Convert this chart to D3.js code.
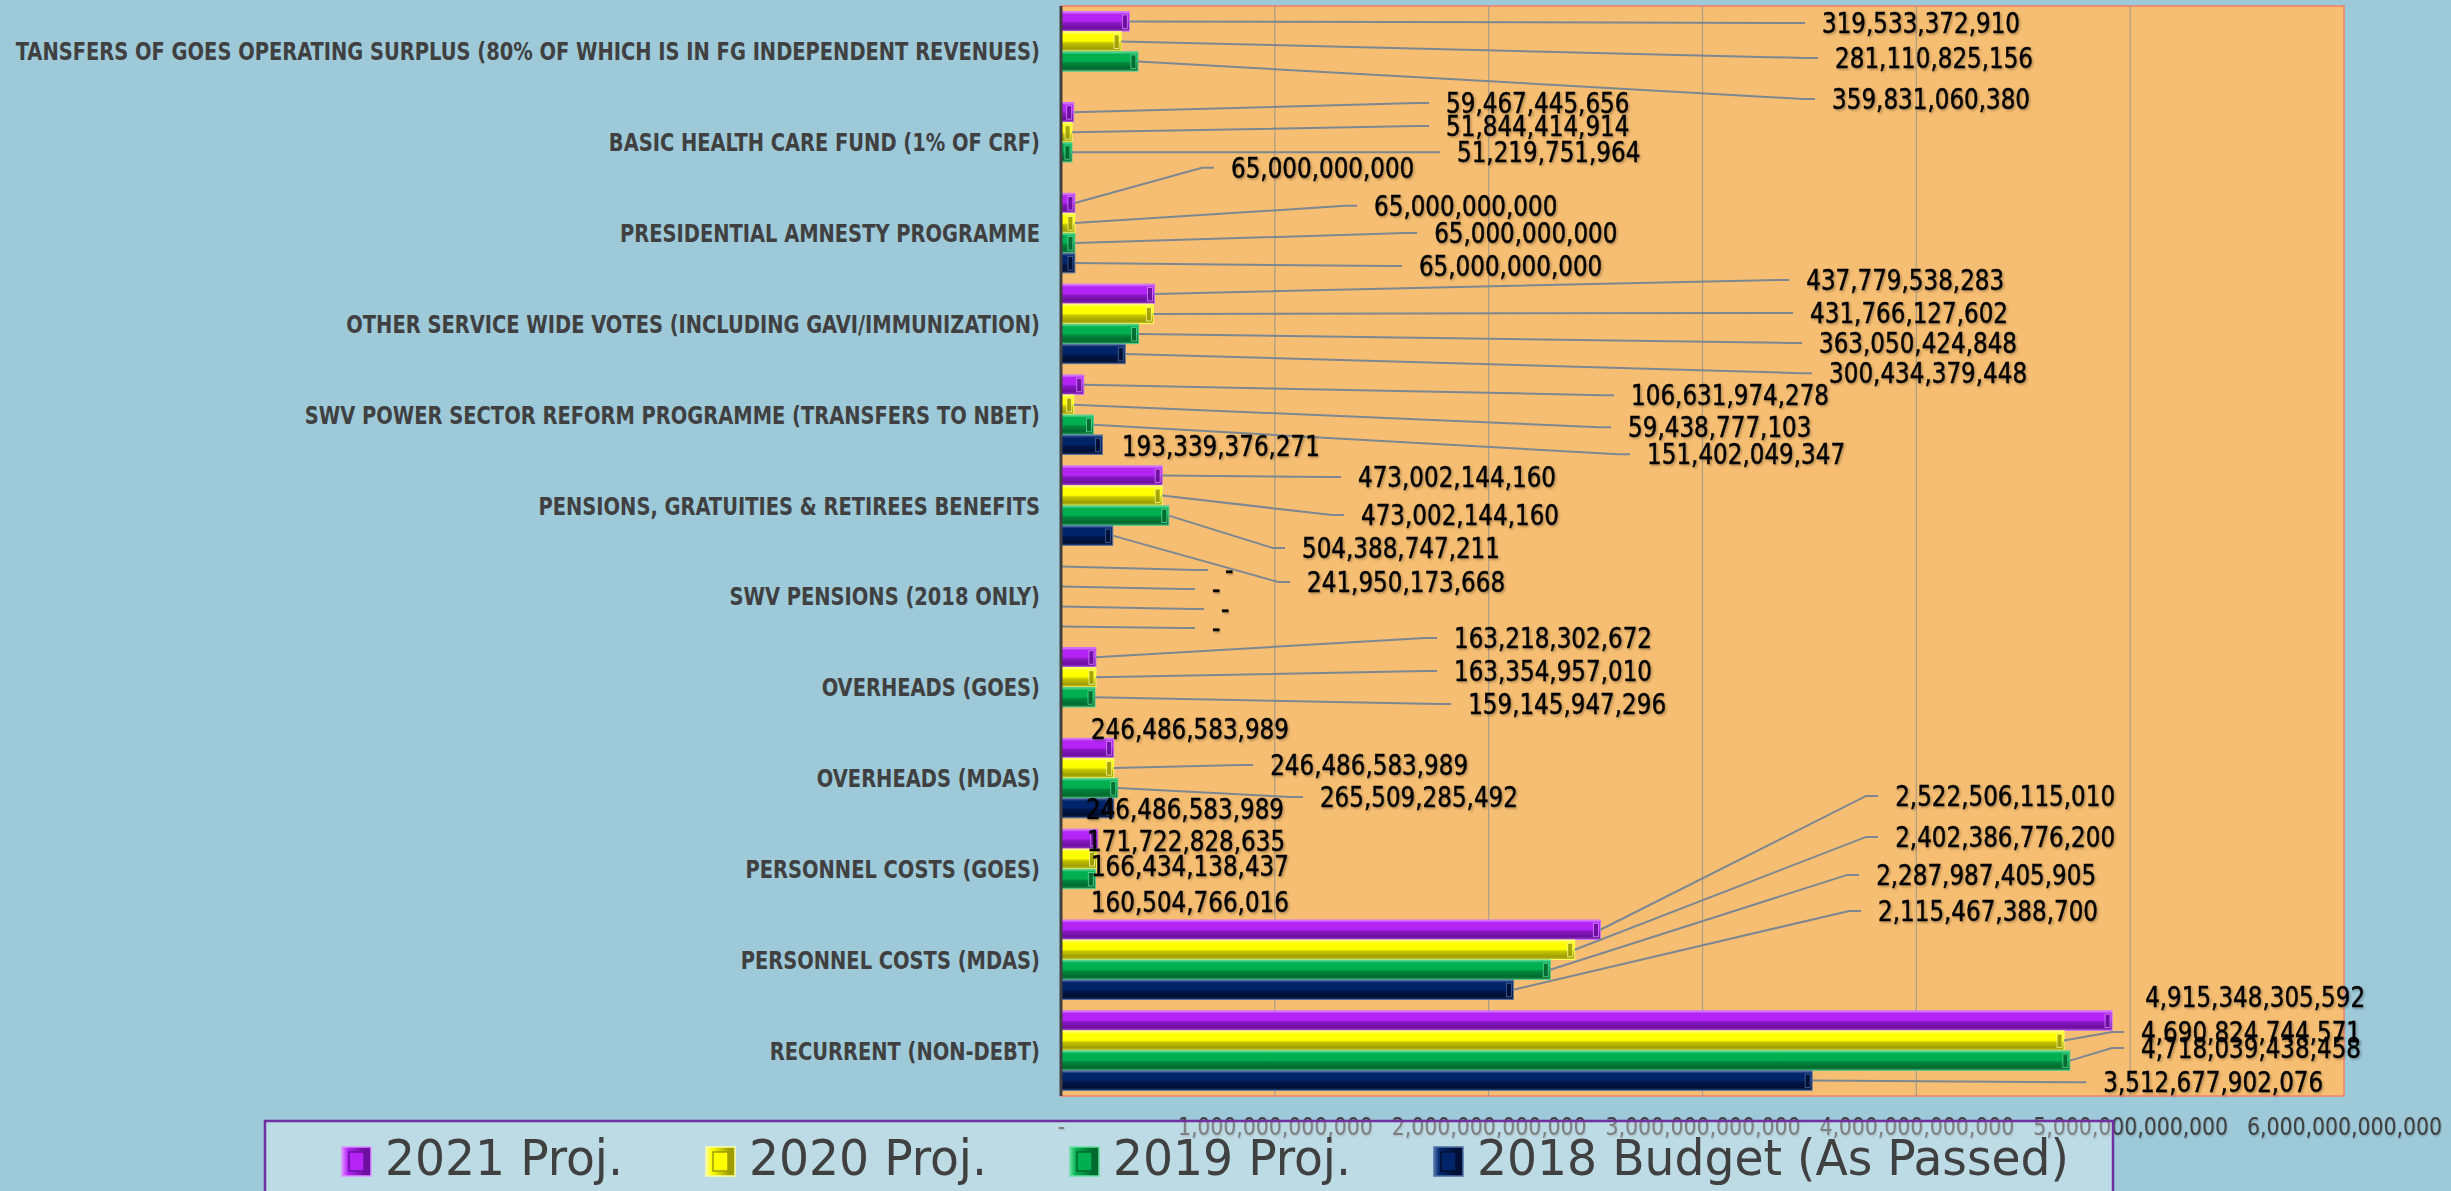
<!DOCTYPE html>
<html><head><meta charset="utf-8">
<script src="https://cdn.jsdelivr.net/npm/d3@7/dist/d3.min.js"></script>
<style>
html,body{margin:0;padding:0;background:#9DC9D9;}
svg{display:block}
.cf{font-family:"DejaVu Sans Condensed","DejaVu Sans",sans-serif;font-stretch:condensed;}
</style>
</head><body>
<svg id="c" width="2451" height="1191"></svg>
<script>
// ---------- DATA ----------
const categories = [
  "TANSFERS OF GOES OPERATING SURPLUS (80% OF WHICH IS IN FG INDEPENDENT REVENUES)",
  "BASIC HEALTH CARE FUND (1% OF CRF)",
  "PRESIDENTIAL AMNESTY PROGRAMME",
  "OTHER SERVICE WIDE VOTES (INCLUDING GAVI/IMMUNIZATION)",
  "SWV POWER SECTOR REFORM PROGRAMME (TRANSFERS TO NBET)",
  "PENSIONS, GRATUITIES & RETIREES BENEFITS",
  "SWV PENSIONS (2018 ONLY)",
  "OVERHEADS (GOES)",
  "OVERHEADS (MDAS)",
  "PERSONNEL COSTS (GOES)",
  "PERSONNEL COSTS (MDAS)",
  "RECURRENT (NON-DEBT)"
];
const seriesNames = ["2021 Proj.", "2020 Proj.", "2019 Proj.", "2018 Budget (As Passed)"];
const proj2021 = [319533372910, 59467445656, 65000000000, 437779538283, 106631974278, 473002144160, 0, 163218302672, 246486583989, 171722828635, 2522506115010, 4915348305592];
const proj2020 = [281110825156, 51844414914, 65000000000, 431766127602, 59438777103, 473002144160, 0, 163354957010, 246486583989, 166434138437, 2402386776200, 4690824744571];
const proj2019 = [359831060380, 51219751964, 65000000000, 363050424848, 151402049347, 504388747211, 0, 159145947296, 265509285492, 160504766016, 2287987405905, 4718039438458];
const budget2018 = [null, null, 65000000000, 300434379448, 193339376271, 241950173668, 0, null, 246486583989, null, 2115467388700, 3512677902076];
const xTickValues = [0, 1e12, 2e12, 3e12, 4e12, 5e12, 6e12];

// label placement (annotation layout, in data units: x in trillions, y in bar slots)
const labelX = [
  [3.559, 1.801, 0.795, 3.485, 2.666, 1.389, 0.767, 1.838, 0.140, 0.122, 3.901, 5.070],
  [3.620, 1.801, 1.464, 3.503, 2.652, 1.403, 0.706, 1.838, 0.978, 0.140, 3.901, 5.051],
  [3.606, 1.852, 1.745, 3.545, 2.741, 1.127, 0.748, 1.904, 1.211, 0.140, 3.812, 5.051],
  [null, null, 1.674, 3.592, 0.285, 1.151, 0.706, null, 0.117, null, 3.821, 4.874]
];
const labelDy = [
  [0.08, -0.46, -1.76, -0.70, 0.52, 0.07, 0.18, -0.96, -0.95, 0.10, -6.69, -1.18],
  [0.83, -0.31, -0.86, -0.05, 1.12, 0.97, 0.13, -0.31, -0.15, 0.36, -5.64, -0.43],
  [1.88, 0.00, -0.50, 0.45, 1.47, 1.62, 0.13, 0.34, 0.45, 1.16, -4.74, -0.63],
  [null, null, 0.15, 0.96, 0.07, 2.32, 0.08, null, 0.05, null, -3.94, 0.08]
];

// ---------- STYLE ----------
const seriesColors = [
  {light:"#DC90FF", base:"#B424F5", dark:"#6C0EA0"},
  {light:"#FFFFA0", base:"#FFFF00", dark:"#9E9E00"},
  {light:"#66E0A0", base:"#00B050", dark:"#006A2E"},
  {light:"#5070A8", base:"#00246A", dark:"#000F33"}
];
const seriesValues = [proj2021, proj2020, proj2019, budget2018];

const svg = d3.select("#c");
const W = 2451, H = 1191;
const P = {left:1061, right:2344, top:6, bottom:1096};

const x = d3.scaleLinear().domain([0, 6e12]).range([P.left, P.right]);
const y = d3.scaleBand().domain(categories).range([P.top, P.bottom]).padding(0);
const ySub = d3.scaleBand().domain(d3.range(seriesNames.length)).range([0, y.bandwidth()]).paddingInner(0).paddingOuter(0.27);
const fmt = d3.format(",.0f");

const defs = svg.append("defs");
seriesColors.forEach((c, j) => {
  const g = defs.append("linearGradient").attr("id", "g" + j).attr("x1", 0).attr("y1", 0).attr("x2", 0).attr("y2", 1);
  [[0, c.light], [0.14, c.base], [0.48, c.base], [0.58, d3.interpolateRgb(c.base, c.dark)(0.6)], [0.86, c.dark], [1, d3.interpolateRgb(c.dark, c.light)(0.4)]]
    .forEach(([o, col]) => g.append("stop").attr("offset", o).attr("stop-color", col));
  const gh = defs.append("linearGradient").attr("id", "gh" + j).attr("x1", 0).attr("y1", 0).attr("x2", 1).attr("y2", 0);
  [[0, c.light], [0.2, c.base], [0.8, c.dark], [1, c.dark]]
    .forEach(([o, col]) => gh.append("stop").attr("offset", o).attr("stop-color", col));
});
const f = defs.append("filter").attr("id", "sh").attr("x", "-5%").attr("y", "-30%").attr("width", "110%").attr("height", "160%");
f.append("feDropShadow").attr("dx", 1.5).attr("dy", 1.5).attr("stdDeviation", 1).attr("flood-color", "#000").attr("flood-opacity", 0.3);
const f2 = defs.append("filter").attr("id", "sh2").attr("x", "-5%").attr("y", "-30%").attr("width", "110%").attr("height", "160%");
f2.append("feDropShadow").attr("dx", 1).attr("dy", 1).attr("stdDeviation", 0.8).attr("flood-color", "#000").attr("flood-opacity", 0.25);

// background
svg.append("rect").attr("width", W).attr("height", H).attr("fill", "#9DC9D9");
// plot area
svg.append("rect").attr("x", P.left).attr("y", P.top).attr("width", P.right - P.left).attr("height", P.bottom - P.top)
  .attr("fill", "#F6BE72").attr("stroke", "#F0806A").attr("stroke-width", 1.5);

// gridlines
svg.append("g").selectAll("line").data(xTickValues.filter(v => v > 0 && v < 6e12)).join("line")
  .attr("x1", d => x(d)).attr("x2", d => x(d)).attr("y1", P.top).attr("y2", P.bottom)
  .attr("stroke", "#9A958C").attr("stroke-width", 1.2).attr("opacity", 0.8);

// bars
const barData = [];
categories.forEach((cat, i) => {
  seriesValues.forEach((arr, j) => {
    const v = arr[i];
    if (v === null || v === undefined) return;
    barData.push({cat, i, j, v});
  });
});
const bh = ySub.bandwidth() - 0.5;
const bars = svg.append("g").selectAll("g").data(barData.filter(d => d.v > 0)).join("g");
bars.append("rect")
  .attr("x", P.left).attr("y", d => y(d.cat) + ySub(d.j) + 0.25)
  .attr("width", d => x(d.v) - P.left).attr("height", bh)
  .attr("fill", d => `url(#g${d.j})`)
  .attr("stroke", d => d3.interpolateRgb(seriesColors[d.j].base, "#ffffff")(0.35)).attr("stroke-width", 1);
bars.append("rect")
  .attr("x", d => Math.max(P.left + 1, x(d.v) - 7)).attr("y", d => y(d.cat) + ySub(d.j) + 3.5)
  .attr("width", d => Math.min(5, x(d.v) - P.left - 2)).attr("height", bh - 6)
  .attr("fill", d => seriesColors[d.j].dark)
  .attr("stroke", d => seriesColors[d.j].light).attr("stroke-width", 0.8).attr("opacity", 0.9);

// leader lines and labels
const labG = svg.append("g");
const labels = barData.map(d => {
  const barY = y(d.cat) + ySub(d.j) + ySub.bandwidth() / 2;
  const barEnd = x(d.v);
  const lx = x(labelX[d.j][d.i] * 1e12);
  const ly = barY + labelDy[d.j][d.i] * ySub.step();
  return {...d, barY, barEnd, lx, ly, text: d.v === 0 ? "-" : fmt(d.v)};
});
labG.selectAll("path").data(labels.filter(d => d.lx - d.barEnd > 40)).join("path")
  .attr("d", d => `M${d.barEnd},${d.barY}L${d.lx - 29},${d.ly}L${d.lx - 17},${d.ly}`)
  .attr("fill", "none").attr("stroke", "#7D8791").attr("stroke-width", 2);

const dl = labG.selectAll("text").data(labels).join("text").attr("class", "cf")
  .attr("font-size", 27.5).attr("fill", "#000").attr("stroke", "#000").attr("stroke-width", 0.45)
  .attr("filter", "url(#sh)")
  .attr("transform", d => `translate(${d.lx},${d.ly + 10})`)
  .text(d => d.text);
{
  const ref = dl.filter(d => d.i === 0 && d.j === 0).node();
  const k = ref ? 198 / ref.getComputedTextLength() : 1;
  dl.attr("transform", d => `translate(${d.lx},${d.ly + 10}) scale(${k},1)`);
}

// left axis line
svg.append("line").attr("x1", P.left).attr("x2", P.left).attr("y1", P.top).attr("y2", P.bottom)
  .attr("stroke", "#404040").attr("stroke-width", 3);

// category labels
const cl = svg.append("g").selectAll("text").data(categories).join("text").attr("class", "cf")
  .attr("font-size", 25).attr("font-weight", "bold").attr("fill", "#404040").attr("text-anchor", "end")
  .text(d => d);
{
  const k = 1025 / cl.filter((d, i) => i === 0).node().getComputedTextLength();
  cl.attr("transform", d => `translate(1040,${y(d) + y.bandwidth() / 2 + 9}) scale(${k},1)`);
}

// x tick labels
const xAxis = d3.axisBottom(x).tickValues(xTickValues).tickSize(0).tickPadding(0)
  .tickFormat(d => d === 0 ? "-" : fmt(d));
const ax = svg.append("g").attr("transform", `translate(0,1116)`).call(xAxis);
ax.select(".domain").remove();
ax.selectAll("text").attr("class", "cf").attr("font-size", 25).attr("fill", "#404040").attr("filter", "url(#sh2)")
  .attr("dy", "0.76em");
{
  const t = ax.selectAll("text").filter(d => d === 1e12).node();
  const k = 195 / t.getComputedTextLength();
  ax.selectAll("text").attr("transform", `scale(${k},1)`);
}

// legend (semi-transparent, drawn over tick labels)
const lg = svg.append("g");
lg.append("rect").attr("x", 265).attr("y", 1121).attr("width", 1848).attr("height", 120)
  .attr("fill", "#ffffff").attr("fill-opacity", 0.33).attr("stroke", "#7030A0").attr("stroke-width", 2.5);
const li = lg.selectAll("g").data(seriesNames).join("g")
  .attr("transform", (d, k) => `translate(${342 + k * 364},1147)`);
li.append("rect").attr("width", 29).attr("height", 29).attr("fill", (d, k) => `url(#gh${k})`)
  .attr("stroke", (d, k) => seriesColors[k].light).attr("stroke-width", 1.5);
li.append("rect").attr("x", 7).attr("y", 5).attr("width", 15).attr("height", 19).attr("fill", (d, k) => seriesColors[k].base)
  .attr("stroke", (d, k) => seriesColors[k].dark).attr("stroke-width", 1.5);
const lt = li.append("text").attr("class", "cf").attr("font-size", 50).attr("fill", "#404040").text(d => d);
{
  const k = 238 / lt.filter((d, i) => i === 0).node().getComputedTextLength();
  lt.attr("transform", `translate(43,28) scale(${k},1)`);
}
</script>
</body></html>
